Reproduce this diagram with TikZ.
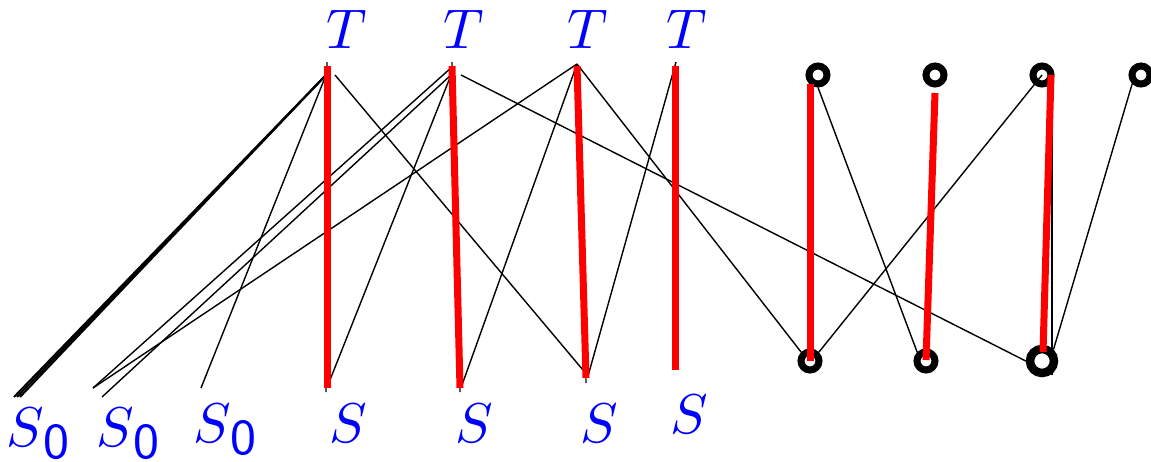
\documentclass[tikz,border=0pt]{standalone}
\begin{document}
\begin{tikzpicture}[x=1pt,y=-1pt,
  lbl/.style={text=blue,inner sep=0pt,scale=5.6,anchor=base},
  edge/.style={black,line width=1.4pt},
  hid/.style={black,line width=1.2pt},
  match/.style={red,line width=7pt},
  ring/.style={circle,draw=black,line width=7pt,minimum size=18pt,inner sep=0pt},
  bigring/.style={circle,draw=black,line width=8.5pt,minimum size=24pt,inner sep=0pt}]
\useasboundingbox (0,0) rectangle (1151,461);
\newcommand{\szero}{$S$\raisebox{-2.3pt}{\small\sffamily 0}}
% labels
\node[lbl] (T1) at (347,48) {$T$};
\node[lbl] (T2) at (464,48) {$T$};
\node[lbl] (T3) at (588,48) {$T$};
\node[lbl] (T4) at (687,48) {$T$};
\node[lbl] (S1) at (348,442) {$S$};
\node[lbl] (S2) at (474,442) {$S$};
\node[lbl] (S3) at (599,442) {$S$};
\node[lbl] (S4) at (689,433) {$S$};
\node[lbl,anchor=base west] (Z1) at (5,446) {\szero};
\node[lbl,anchor=base west] (Z2) at (95,446) {\szero};
\node[lbl,anchor=base west] (Z3) at (192,442) {\szero};
% endpoints
\coordinate (t1) at (327,62);  \coordinate (t1l) at (326,75); \coordinate (t1r) at (335,75);
\coordinate (t2) at (452,62);  \coordinate (t2a) at (452,67); \coordinate (t2b) at (451,75); \coordinate (t2r) at (461,75);
\coordinate (t3) at (577,64);
\coordinate (t4) at (676,62);
\coordinate (s1) at (326,392); \coordinate (s1e) at (328,385);
\coordinate (s2) at (460,392); \coordinate (s2e) at (462,385);
\coordinate (s3) at (586,383); \coordinate (s3e) at (588,376);
\coordinate (z1a) at (14,397); \coordinate (z1c) at (17,397); \coordinate (z1b) at (20,397);
\coordinate (z2a) at (93,388); \coordinate (z2b) at (102,397);
\coordinate (z3) at (201,388);
% circles
\node[ring] (a1) at (818,75) {};
\node[ring] (a2) at (935,75) {};
\node[ring] (a3) at (1042,75) {};
\node[ring] (a4) at (1141,75) {};
\node[ring] (b1) at (810,361) {};
\node[ring] (b2) at (926,361) {};
\node[bigring] (b3) at (1042,361) {};
% black edges
\draw[black,line width=2pt] (t1l) -- (z1a);
\draw[black,line width=2pt] (t1l) -- (z1c);
\draw[black,line width=2pt] (t1l) -- (z1b);
\draw[edge] (t1l) -- (z3);
\draw[edge] (t1r) -- (s3e);
\draw[hid] (t1) -- (s1);
\draw[edge] (t2a) -- (z2a);
\draw[edge] (t2b) -- (z2b);
\draw[edge] (t2b) -- (s1e);
\draw[edge] (t2r) -- (b3.west);
\draw[hid] (t2) -- (s2);
\draw[edge] (t3) -- (z2a);
\draw[edge] (t3) -- (s2e);
\draw[edge] (t3) -- (b1.north west);
\draw[hid] (t3) -- (s3);
\draw[edge] (t4) -- (s3e);
\draw[edge] (a1.south) -- (b2.north west);
\draw[edge] (a3.center) -- (b1.north east);
\draw[edge] (a4.south west) -- (b3.north east);
\draw[edge] ([xshift=10pt]a3.center) -- ([xshift=10pt,yshift=-14pt]b3.center);
% matching (red)
\draw[match] (327,66) -- (327,388);
\draw[match] (452,66) -- (460,388);
\draw[match] (577,66) -- (586,378);
\draw[match] (675,66) -- (675,370);
\draw[match] (810,84) -- (b1.center);
\draw[match] (935,93) -- (926,360);
\draw[match] (1051,75) -- (1043,352);
\end{tikzpicture}
\end{document}
